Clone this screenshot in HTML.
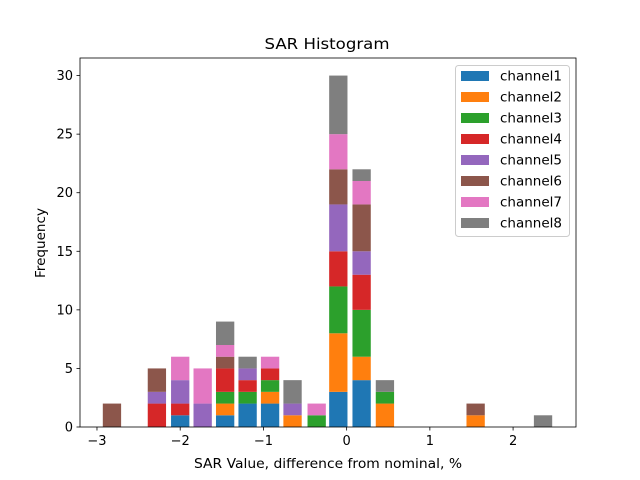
<!DOCTYPE html>
<html><head><meta charset="utf-8"><style>
body{margin:0;background:#fff;}
svg{display:block;font-family:"DejaVu Sans","Liberation Sans",sans-serif;}
</style></head><body>
<svg id="chart" width="640" height="480" xmlns="http://www.w3.org/2000/svg">
<rect width="640" height="480" fill="#fff"/>
<text x="327" y="49" font-size="15.5" text-anchor="middle" textLength="125" lengthAdjust="spacingAndGlyphs">SAR Histogram</text>
<g id="bars"></g>
<rect x="80" y="58" width="496" height="369" fill="none" stroke="#000" stroke-width="0.8"/>
<g id="xticks"></g><g id="yticks"></g>
<text x="328" y="468" font-size="13.5" text-anchor="middle" textLength="268" lengthAdjust="spacingAndGlyphs">SAR Value, difference from nominal, %</text>
<text x="45" y="243" font-size="13.5" text-anchor="middle" textLength="70" lengthAdjust="spacingAndGlyphs" transform="rotate(-90 45 243)">Frequency</text>
<g id="legend"></g>
</svg>
<script>
const binCenters=[-2.82,-2.28,-2.0,-1.73,-1.46,-1.19,-0.92,-0.65,-0.36,-0.10,0.18,0.46,1.55,2.36];
const seriesNames=["channel1","channel2","channel3","channel4","channel5","channel6","channel7","channel8"];
const colors=["#1f77b4","#ff7f0e","#2ca02c","#d62728","#9467bd","#8c564b","#e377c2","#7f7f7f"];
const ch1=[0,0,1,0,1,2,2,0,0,3,4,0,0,0];
const ch2=[0,0,0,0,1,0,1,1,0,5,2,2,1,0];
const ch3=[0,0,0,0,1,1,1,0,1,4,4,1,0,0];
const ch4=[0,2,1,0,2,1,1,0,0,3,3,0,0,0];
const ch5=[0,1,2,2,0,1,0,1,0,4,2,0,0,0];
const ch6=[2,2,0,0,1,0,0,0,0,3,4,0,1,0];
const ch7=[0,0,2,3,1,0,1,0,1,3,2,0,0,0];
const ch8=[0,0,0,0,2,1,0,2,0,5,1,1,0,1];
const xTicks=[-3,-2,-1,0,1,2];
const yTicks=[0,5,10,15,20,25,30];
const barWidth=0.22;
const series=[ch1,ch2,ch3,ch4,ch5,ch6,ch7,ch8];
const NS="http://www.w3.org/2000/svg";
const X0=80,X1=576,Y0=427,Y1=58,xmin=-3.204,xmax=2.756,ymin=0,ymax=31.5;
const sx=v=>X0+(v-xmin)/(xmax-xmin)*(X1-X0);
const sy=v=>Y0-(v-ymin)/(ymax-ymin)*(Y0-Y1);
function mk(tag,attrs,parent){const e=document.createElementNS(NS,tag);for(const k in attrs)e.setAttribute(k,attrs[k]);parent.appendChild(e);return e;}
const bars=document.getElementById('bars');
binCenters.forEach((c,i)=>{let base=0;series.forEach((s,j)=>{const v=s[i];if(v>0){const r=mk('rect',{x:sx(c-barWidth/2),width:sx(c+barWidth/2)-sx(c-barWidth/2),y:sy(base+v),height:sy(base)-sy(base+v),fill:colors[j]},bars);

}base+=v;});});
const xt=document.getElementById('xticks');
xTicks.forEach(t=>{const x=sx(t);mk('line',{x1:x,x2:x,y1:Y0,y2:Y0+3.5,stroke:'#000','stroke-width':0.8},xt);
const tx=mk('text',{x:x,y:Y0+18,'font-size':13,'text-anchor':'middle'},xt);tx.textContent=(t<0?'\u2212'+(-t):t);

});
const yt=document.getElementById('yticks');
yTicks.forEach(t=>{const y=sy(t);mk('line',{x1:X0-3.5,x2:X0,y1:y,y2:y,stroke:'#000','stroke-width':0.8},yt);
const tx=mk('text',{x:X0-7,y:y+4.5,'font-size':13,'text-anchor':'end'},yt);tx.textContent=t;

});
const lg=document.getElementById('legend');
mk('rect',{x:455.5,y:65.5,width:114,height:171,rx:3,fill:'#fff',stroke:'#ccc','stroke-width':1},lg);
seriesNames.forEach((n,j)=>{const cy=76+j*21;
const p=mk('rect',{x:461,y:cy-5,width:28,height:10,fill:colors[j]},lg);


const t=mk('text',{x:500,y:cy+4.5,'font-size':13.5,textLength:62,lengthAdjust:'spacingAndGlyphs'},lg);t.textContent=n;

});
</script>
</body></html>
